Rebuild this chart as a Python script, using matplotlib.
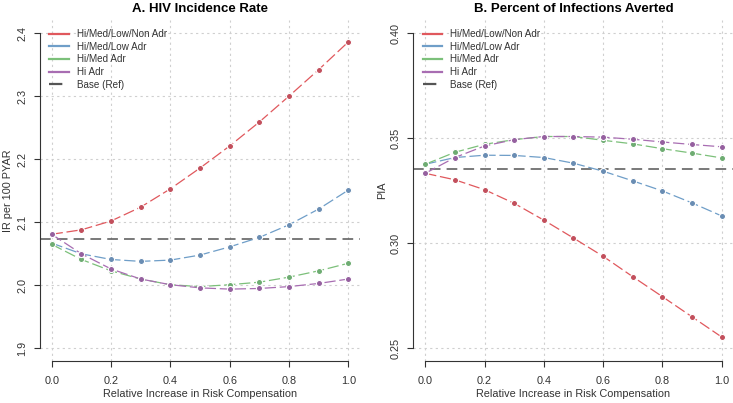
import numpy as np
import matplotlib
matplotlib.use('Agg')
import matplotlib.pyplot as plt
from matplotlib.lines import Line2D

plt.rcParams['font.family'] = ['Liberation Sans', 'DejaVu Sans']

# данные
x = [0.0, 0.1, 0.2, 0.3, 0.4, 0.5, 0.6, 0.7, 0.8, 0.9, 1.0]
series_names = ['Hi/Med/Low/Non Adr', 'Hi/Med/Low Adr', 'Hi/Med Adr', 'Hi Adr']

ir_all = [2.081, 2.088, 2.102, 2.124, 2.153, 2.186, 2.221, 2.259, 2.300, 2.342, 2.386]
ir_hml = [2.067, 2.050, 2.041, 2.038, 2.040, 2.048, 2.061, 2.076, 2.096, 2.121, 2.151]
ir_hm = [2.065, 2.041, 2.023, 2.010, 2.001, 1.998, 2.001, 2.005, 2.013, 2.023, 2.035]
ir_hi = [2.081, 2.050, 2.026, 2.010, 2.001, 1.996, 1.994, 1.995, 1.998, 2.003, 2.010]
ir_base = 2.074

pia_all = [0.3333, 0.3302, 0.3255, 0.3190, 0.3110, 0.3025, 0.2938, 0.2841, 0.2746, 0.2650, 0.2554]
pia_hml = [0.3376, 0.3408, 0.3419, 0.3418, 0.3408, 0.3381, 0.3343, 0.3297, 0.3249, 0.3192, 0.3130]
pia_hm = [0.3376, 0.3433, 0.3471, 0.3493, 0.3508, 0.3508, 0.3490, 0.3473, 0.3450, 0.3429, 0.3406]
pia_hi = [0.3333, 0.3408, 0.3463, 0.3493, 0.3508, 0.3508, 0.3505, 0.3495, 0.3482, 0.3470, 0.3459]
pia_base = 0.3354

line_colors = ['#e0585d', '#6f9ec8', '#7cc07a', '#a86db2']
dot_colors = ['#c24f5c', '#6a8db3', '#6eac72', '#95609f']

fig = plt.figure(figsize=(7.33, 4.03), dpi=100)
ax1 = fig.add_axes([0.0543, 0.1042, 0.4371, 0.845])
ax2 = fig.add_axes([0.564, 0.1042, 0.4368, 0.845])


def draw_panel(ax, data, base, ylim, yticks, fmt, title, ylabel):
    for vals, lc, dc in zip(data, line_colors, dot_colors):
        ax.plot(x, vals, color=lc, lw=0.9, dashes=(9, 3), zorder=3)
        ax.plot(x, vals, ls='none', marker='o', ms=4.4, mfc=dc, mec='white',
                mew=0.8, zorder=4)
    ax.axhline(base, color='#555555', lw=1.1, dashes=(7, 4), zorder=2)

    ax.set_xlim(-0.04, 1.04)
    ax.set_ylim(ylim)
    ax.set_xticks(np.arange(0, 1.01, 0.2))
    ax.set_xticklabels([f'{v:.1f}' for v in np.arange(0, 1.01, 0.2)])
    ax.set_yticks(yticks)
    ax.set_yticklabels([fmt % v for v in yticks])
    ax.grid(True, color='#cfcfcf', lw=0.8, ls=(0, (2, 3)), zorder=0)

    for s in ['top', 'right']:
        ax.spines[s].set_visible(False)
    ax.spines['left'].set_bounds(yticks[0], yticks[-1])
    ax.spines['bottom'].set_bounds(0, 1)
    ax.spines['left'].set_color('#333333')
    ax.spines['bottom'].set_color('#333333')
    ax.tick_params(direction='out', length=4, width=0.8, color='#333333',
                   labelsize=7.8, labelcolor='#333333')
    ax.tick_params(axis='x', pad=7)
    ax.tick_params(axis='y', pad=5)
    for lab in ax.get_yticklabels():
        lab.set_rotation(90)
        lab.set_va('center')

    ax.set_title(title, fontsize=9.5, fontweight='bold', pad=6)
    ax.set_xlabel('Relative Increase in Risk Compensation', fontsize=7.8,
                  color='#333333')
    ax.set_ylabel(ylabel, fontsize=7.8, color='#333333')
    ax.xaxis.set_label_coords(0.5, -0.083)
    ax.yaxis.set_label_coords(-0.083, 0.5)

    handles = [Line2D([], [], color=c, lw=1.6) for c in line_colors]
    handles.append(Line2D([], [], color='#555555', lw=1.6, dashes=(6, 4)))
    ax.legend(handles, series_names + ['Base (Ref)'], loc='upper left',
              bbox_to_anchor=(0.029, 0.974), borderaxespad=0, borderpad=0,
              frameon=False, fontsize=7.1, handlelength=2.0,
              handletextpad=0.8, labelspacing=0.26, labelcolor='#333333')


draw_panel(ax1, [ir_all, ir_hml, ir_hm, ir_hi], ir_base, (1.88, 2.42),
           [1.9, 2.0, 2.1, 2.2, 2.3, 2.4], '%.1f',
           'A. HIV Incidence Rate', 'IR per 100 PYAR')
draw_panel(ax2, [pia_all, pia_hml, pia_hm, pia_hi], pia_base, (0.244, 0.406),
           [0.25, 0.30, 0.35, 0.40], '%.2f',
           'B. Percent of Infections Averted', 'PIA')

fig.savefig('out.png', dpi=100)
